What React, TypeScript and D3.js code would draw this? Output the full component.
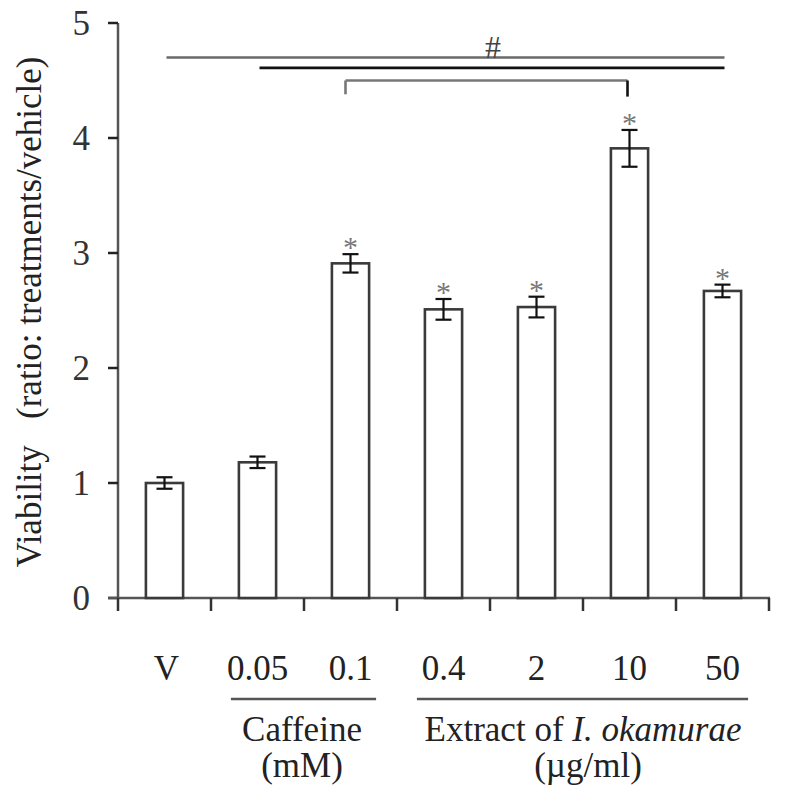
import React from "react";
import * as d3 from "d3";

const categories = ["V", "0.05", "0.1", "0.4", "2", "10", "50"];
const means = [1.0, 1.18, 2.91, 2.51, 2.53, 3.91, 2.67];
const errors = [0.05, 0.05, 0.08, 0.09, 0.09, 0.16, 0.055];
const starred = [false, false, true, true, true, true, true];
const yTicks = [0, 1, 2, 3, 4, 5];
const groups = [
  { label: "Caffeine", unit: "(mM)", from: "0.05", to: "0.1" },
  { label: "Extract of ", italic: "I. okamurae", unit: "(\u00b5g/ml)", from: "0.4", to: "50" },
];
const sigLines = [
  { from: "V", to: "50", level: 4.7, bracket: false, color: "#6a6a6a" },
  { from: "0.05", to: "50", level: 4.61, bracket: false, color: "#111" },
  { from: "0.1", to: "10", level: 4.5, bracket: true, color: "#777" },
];
const bracketDrop = 4.38;
const sigMark = "#";

const W = 786;
const H = 797;
const FONT = "Liberation Serif, Times New Roman, DejaVu Serif, serif";
const FS = 35;

export default function App() {
  const x = d3.scaleBand<string>().domain(categories).range([118, 769]).paddingInner(0.6).paddingOuter(0.3);
  const y = d3.scaleLinear().domain([0, 5]).range([598, 23]);
  const bw = x.bandwidth();
  const cx = (c: string) => (x(c) as number) + bw / 2;
  const step = x.step();
  const x0 = x.range()[0];
  const boundaries = d3.range(categories.length + 1).map((i) => x0 + i * step);
  const ts = { fontFamily: FONT };

  return (
    <svg width={W} height={H} style={{ position: "absolute", left: 0, top: 0, background: "#fff", fontFamily: FONT }}>
      {/* y axis label */}
      <text
        transform={`translate(41, 312) rotate(-90)`}
        textAnchor="middle"
        fontSize={FS}
        fill="#222"
        style={{ ...ts, whiteSpace: "pre" }}
      >
        {"Viability   (ratio: treatments/vehicle)"}
      </text>

      {/* y axis */}
      <line x1={118} x2={118} y1={y(5)} y2={y(0)} stroke="#555" strokeWidth={2.5} />
      {yTicks.map((t) => (
        <g key={t}>
          <line x1={108} x2={118} y1={y(t)} y2={y(t)} stroke="#222" strokeWidth={2.5} />
          <text x={90} y={y(t)} dy="0.35em" textAnchor="end" fontSize={FS} fill="#333" style={ts}>
            {t}
          </text>
        </g>
      ))}

      {/* x axis */}
      <line x1={x0 - 10} x2={boundaries[boundaries.length - 1] + 1} y1={y(0)} y2={y(0)} stroke="#555" strokeWidth={2.5} />
      {boundaries.map((b, i) => (
        <line key={i} x1={b} x2={b} y1={y(0)} y2={y(0) + 13} stroke="#333" strokeWidth={2.5} />
      ))}

      {/* bars */}
      {categories.map((c, i) => (
        <g key={c}>
          <rect x={x(c) as number} y={y(means[i])} width={bw} height={y(0) - y(means[i])} fill="#fff" stroke="#3a3a3a" strokeWidth={2.6} />
          <line x1={cx(c)} x2={cx(c)} y1={y(means[i] + errors[i])} y2={y(means[i] - errors[i])} stroke="#111" strokeWidth={2.2} />
          <line x1={cx(c) - 8} x2={cx(c) + 8} y1={y(means[i] + errors[i])} y2={y(means[i] + errors[i])} stroke="#111" strokeWidth={2.2} />
          <line x1={cx(c) - 8} x2={cx(c) + 8} y1={y(means[i] - errors[i])} y2={y(means[i] - errors[i])} stroke="#111" strokeWidth={2.2} />
          {starred[i] && (
            <text x={cx(c)} y={y(means[i] + errors[i]) + 3} textAnchor="middle" fontSize={30} fill="#777" style={ts}>
              *
            </text>
          )}
          <text x={cx(c) + (i === 0 ? 2 : 0)} y={680} textAnchor="middle" fontSize={FS} fill="#222" style={ts}>
            {c}
          </text>
        </g>
      ))}

      {/* significance lines */}
      {sigLines.map((s, i) => (
        <g key={i}>
          <line x1={cx(s.from) + (s.bracket ? -5 : 2)} x2={cx(s.to) - (s.bracket ? 2 : -2)} y1={y(s.level)} y2={y(s.level)} stroke={s.color} strokeWidth={2.6} />
          {s.bracket && (
            <>
              <line x1={cx(s.from) - 5} x2={cx(s.from) - 5} y1={y(s.level)} y2={y(bracketDrop)} stroke={s.color} strokeWidth={2.6} />
              <line x1={cx(s.to) - 2} x2={cx(s.to) - 2} y1={y(s.level)} y2={y(bracketDrop - 0.02)} stroke="#111" strokeWidth={2.6} />
            </>
          )}
        </g>
      ))}
      <text x={493} y={58} textAnchor="middle" fontSize={32} fill="#444" style={ts}>
        {sigMark}
      </text>

      {/* group labels */}
      {groups.map((g, i) => {
        const a = x(g.from) as number;
        const b = (x(g.to) as number) + bw;
        const mid = (a + b) / 2;
        return (
          <g key={i}>
            <line x1={a - 8} x2={b + 7} y1={699} y2={699} stroke="#555" strokeWidth={2.6} />
            <text x={mid + (i === 0 ? -2 : 0)} y={741} textAnchor="middle" fontSize={FS} fill="#222" style={ts}>
              {g.label}
              {g.italic && <tspan fontStyle="italic">{g.italic}</tspan>}
            </text>
            <text x={mid + (i === 0 ? -2 : 5)} y={777} textAnchor="middle" fontSize={FS} fill="#222" style={ts}>
              {g.unit}
            </text>
          </g>
        );
      })}
    </svg>
  );
}
